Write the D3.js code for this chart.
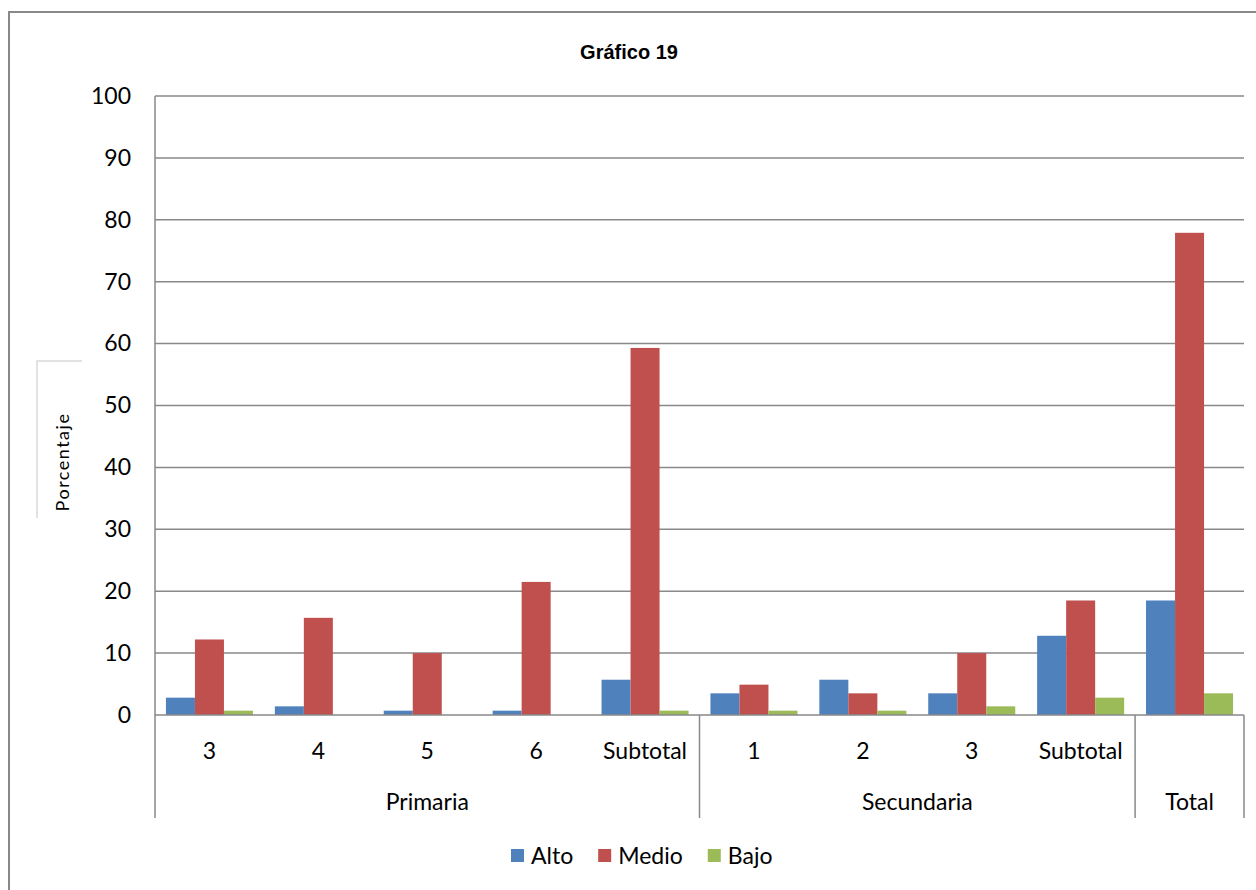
<!DOCTYPE html>
<html>
<head>
<meta charset="utf-8">
<script src="https://cdn.jsdelivr.net/npm/d3@7"></script>
<style>
  html, body { margin: 0; padding: 0; background: #fff; }
  svg { display: block; }
</style>
</head>
<body>
<svg id="chart" width="1256" height="890"></svg>
<script>
// ---- Data ----
const subLabels = ["3", "4", "5", "6", "Subtotal", "1", "2", "3", "Subtotal", ""];
const groupLabels = ["Primaria", "Secundaria", "Total"];
const groupSizes = [5, 4, 1];
const seriesNames = ["Alto", "Medio", "Bajo"];
const alto  = [2.8, 1.4, 0.7, 0.7, 5.7, 3.5, 5.7, 3.5, 12.8, 18.5];
const medio = [12.2, 15.7, 10.0, 21.5, 59.3, 4.9, 3.5, 10.0, 18.5, 77.9];
const bajo  = [0.7, 0, 0, 0, 0.7, 0.7, 0.7, 1.4, 2.8, 3.5];
const yTicks = [0, 10, 20, 30, 40, 50, 60, 70, 80, 90, 100];
const colors = ["#4F81BD", "#C0504D", "#9BBB59"];

const seriesValues = [alto, medio, bajo];
const keys = subLabels.map((d, i) => i);

const svg = d3.select("#chart");
const gridColor = "#898989";
const font = "Lato, 'Open Sans', sans-serif";

// outer border (top + left visible)
svg.append("path").attr("d", "M9,890 L9,12 L1256,12")
  .attr("fill", "none").attr("stroke", gridColor).attr("stroke-width", 2);

// title
svg.append("text").attr("x", 629).attr("y", 59).attr("text-anchor", "middle")
  .attr("font-family", "'Liberation Sans', Arial, sans-serif").attr("font-weight", "bold")
  .attr("font-size", 20).attr("fill", "#000").text("Gráfico 19");

const L = 155, R = 1244, T = 96, B = 715;
const x0 = d3.scaleBand().domain(keys).range([L, R]).padding(0);
const x1 = d3.scaleBand().domain(seriesNames).range([0, x0.bandwidth()]).paddingInner(0).paddingOuter(0.377);
const y = d3.scaleLinear().domain([0, 100]).range([B, T]);

// gridlines
svg.append("g").selectAll("line").data(yTicks.filter(t => t > 0)).join("line")
  .attr("x1", L).attr("x2", R).attr("y1", d => y(d)).attr("y2", d => y(d))
  .attr("stroke", gridColor).attr("stroke-width", 1.5);

// y axis
const yAxis = d3.axisLeft(y).tickValues(yTicks).tickSize(0).tickPadding(24);
const yg = svg.append("g").attr("transform", `translate(${L},0)`).call(yAxis);
yg.select(".domain").remove();
yg.selectAll("text").attr("font-family", font).attr("font-size", 23).attr("fill", "#000");
svg.append("line").attr("x1", L).attr("x2", L).attr("y1", T).attr("y2", B)
  .attr("stroke", gridColor).attr("stroke-width", 1.5);

// bars
const barG = svg.append("g");
seriesNames.forEach((s, si) => {
  barG.append("g").selectAll("rect").data(seriesValues[si].map((v, i) => ({v, i}))).join("rect")
    .filter(d => d.v > 0)
    .attr("x", d => x0(d.i) + x1(s))
    .attr("width", x1.bandwidth())
    .attr("y", d => y(d.v))
    .attr("height", d => y(0) - y(d.v))
    .attr("fill", colors[si]);
});

// x axis line
svg.append("line").attr("x1", L).attr("x2", R).attr("y1", B).attr("y2", B)
  .attr("stroke", gridColor).attr("stroke-width", 1.5);

// x axis sub labels
const xAxis = d3.axisBottom(x0).tickFormat(i => subLabels[i]).tickSize(0).tickPadding(28);
const xg = svg.append("g").attr("transform", `translate(0,${B})`).call(xAxis);
xg.select(".domain").remove();
xg.selectAll("text").attr("font-family", font).attr("font-size", 23).attr("fill", "#000");

// group separators and labels
let idx = 0;
const bounds = [L];
groupLabels.forEach((g, gi) => {
  const start = x0(keys[idx]);
  const end = x0(keys[idx + groupSizes[gi] - 1]) + x0.bandwidth();
  bounds.push(end);
  svg.append("text").attr("x", (start + end) / 2).attr("y", 810).attr("text-anchor", "middle")
    .attr("font-family", font).attr("font-size", 23).attr("fill", "#000").text(g);
  idx += groupSizes[gi];
});
svg.append("g").selectAll("line").data(bounds).join("line")
  .attr("x1", d => d).attr("x2", d => d).attr("y1", B).attr("y2", 818)
  .attr("stroke", gridColor).attr("stroke-width", 1.5);

// y axis title with light box
svg.append("path").attr("d", "M82,361 L37,361 L37,518").attr("fill", "none")
  .attr("stroke", "#d9d9d9").attr("stroke-width", 1.5);
svg.append("text").attr("transform", "translate(69,462) rotate(-90)").attr("text-anchor", "middle")
  .attr("font-family", font).attr("font-size", 18).attr("letter-spacing", 1.5).attr("fill", "#000")
  .text("Porcentaje");

// legend
const lg = svg.append("g");
let lx = 511;
seriesNames.forEach((s, si) => {
  lg.append("rect").attr("x", lx).attr("y", 849).attr("width", 13).attr("height", 13).attr("fill", colors[si]);
  const t = lg.append("text").attr("x", lx + 20).attr("y", 864).attr("font-family", font)
    .attr("font-size", 23).attr("fill", "#000").text(s);
  lx += 20 + t.node().getComputedTextLength() + 25;
});
</script>
</body>
</html>
